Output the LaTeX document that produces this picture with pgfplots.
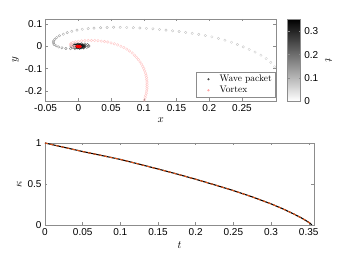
\documentclass[border=0pt]{standalone}
\usepackage{fontspec}
\setsansfont{Liberation Sans}
\usepackage{pgfplots}
\usepackage{pgfplotstable}
\pgfplotsset{compat=1.18}
\definecolor{mlorange}{rgb}{0.85,0.325,0.098}
\definecolor{axgray}{gray}{0.55}

\pgfplotsset{mylegimg/.style={legend image code/.code={%
  \draw[draw=none] (0cm,0cm) -- (0.7cm,0cm);
  \draw[##1, only marks] plot coordinates {(0.38cm,0cm)};}}}

\pgfplotstableread{
x y t
0.300 -0.092 0.000
0.294 -0.072 0.002
0.287 -0.055 0.004
0.279 -0.040 0.006
0.270 -0.026 0.008
0.261 -0.014 0.010
0.252 -0.003 0.012
0.243 0.008 0.014
0.234 0.018 0.016
0.224 0.027 0.018
0.214 0.035 0.020
0.204 0.042 0.022
0.194 0.048 0.024
0.184 0.053 0.026
0.174 0.058 0.028
0.164 0.062 0.030
0.154 0.066 0.032
0.144 0.069 0.034
0.134 0.072 0.036
0.124 0.075 0.038
0.114 0.078 0.040
0.104 0.080 0.042
0.094 0.082 0.044
0.084 0.083 0.046
0.074 0.084 0.048
0.064 0.085 0.050
0.054 0.085 0.052
0.044 0.084 0.054
0.034 0.083 0.056
0.024 0.081 0.058
0.015 0.079 0.060
0.006 0.076 0.062
-0.002 0.072 0.064
-0.010 0.067 0.068
-0.017 0.061 0.074
-0.023 0.054 0.080
-0.029 0.047 0.086
-0.033 0.039 0.092
-0.036 0.031 0.098
-0.038 0.023 0.104
-0.038 0.015 0.110
-0.037 0.008 0.116
-0.034 0.002 0.122
-0.030 -0.003 0.128
-0.025 -0.007 0.134
-0.019 -0.010 0.140
-0.012 -0.011 0.146
-0.005 -0.011 0.152
0.002 -0.010 0.158
0.008 -0.008 0.162
0.013 -0.005 0.166
0.016 -0.001 0.170
0.016 0.003 0.174
0.014 0.007 0.178
0.010 0.010 0.182
0.005 0.012 0.186
0.000 0.012 0.190
-0.005 0.011 0.194
-0.009 0.008 0.198
-0.011 0.004 0.202
-0.011 0.000 0.206
-0.009 -0.004 0.210
-0.006 -0.007 0.214
-0.002 -0.008 0.218
0.002 -0.008 0.222
0.005 -0.007 0.226
0.008 -0.005 0.230
0.010 -0.002 0.234
0.010 0.001 0.238
0.009 0.004 0.242
0.007 0.006 0.246
0.004 0.008 0.250
0.001 0.008 0.254
-0.002 0.008 0.258
-0.005 0.006 0.262
-0.007 0.004 0.266
-0.008 0.001 0.270
-0.007 -0.002 0.274
-0.005 -0.004 0.278
-0.003 -0.005 0.282
0.000 -0.006 0.286
0.003 -0.005 0.290
0.005 -0.003 0.294
0.006 -0.001 0.298
0.006 0.002 0.302
0.005 0.004 0.306
0.003 0.005 0.310
0.000 0.006 0.314
-0.003 0.005 0.318
-0.004 0.003 0.322
-0.005 0.000 0.326
-0.004 -0.002 0.330
-0.002 -0.004 0.334
0.001 -0.004 0.338
0.003 -0.002 0.342
0.003 0.001 0.346
0.001 0.002 0.350
0.000 0.000 0.354
0.004 -0.006 0.296
0.007 -0.004 0.300
0.008 0.000 0.304
0.007 0.003 0.308
0.005 0.005 0.312
0.002 0.006 0.316
-0.001 0.006 0.320
-0.004 0.004 0.324
-0.006 0.002 0.328
-0.006 -0.001 0.332
-0.004 -0.003 0.336
-0.001 -0.004 0.340
0.002 -0.003 0.344
0.002 0.000 0.348
-0.002 0.001 0.350
-0.002 -0.002 0.352
}\wavepacket

\pgfplotstableread{
x y
0.1000 -0.250
0.1010 -0.240
0.1020 -0.230
0.1030 -0.220
0.1038 -0.210
0.1044 -0.200
0.1048 -0.190
0.1050 -0.180
0.1050 -0.170
0.1049 -0.160
0.1046 -0.150
0.1041 -0.140
0.1034 -0.130
0.1025 -0.120
0.1014 -0.110
0.1000 -0.100
0.0984 -0.090
0.0965 -0.080
0.0943 -0.070
0.0918 -0.060
0.0890 -0.050
0.0858 -0.040
0.0822 -0.030
0.0782 -0.021
0.0740 -0.013
0.0695 -0.006
0.0650 0.000
0.0600 0.006
0.0550 0.011
0.0500 0.015
0.0450 0.019
0.0400 0.021
0.0350 0.023
0.0300 0.025
0.0250 0.026
0.0200 0.026
0.0150 0.026
0.0100 0.025
0.0050 0.024
0.0000 0.022
-0.0045 0.020
-0.0085 0.017
-0.0110 0.013
-0.0120 0.009
-0.0115 0.005
-0.0095 0.002
-0.0070 0.000
-0.0050 -0.001
}\vortextrail

\pgfplotstableread{
x y
-0.002 -0.001
0.000 -0.002
0.002 -0.002
0.003 -0.001
0.001 0.000
-0.001 0.000
}\vortexcore

\pgfplotstableread{
t k
0 1.000
0.025 0.948
0.05 0.896
0.075 0.848
0.1 0.800
0.125 0.742
0.15 0.683
0.175 0.622
0.2 0.558
0.225 0.490
0.25 0.420
0.275 0.343
0.3 0.258
0.315 0.200
0.33 0.135
0.34 0.088
0.347 0.050
0.352 0.020
0.354 0.000
}\kappadata

\pgfplotsset{
  mlaxis/.style={
    scale only axis,
    axis line style={axgray, line width=0.5pt},
    every tick/.style={axgray, line width=0.4pt},
    tick align=inside,
    major tick length=2.5pt,
    scaled ticks=false,
    tick label style={font=\sffamily\fontsize{10}{11}\selectfont, /pgf/number format/assume math mode=true,
      /pgf/number format/fixed, /pgf/number format/precision=2},
    label style={font=\fontsize{10.5}{12}\selectfont},
  }
}

\begin{document}
\begin{tikzpicture}
\path[use as bounding box] (0,0) rectangle (346pt,260pt);

\begin{axis}[mlaxis,
  at={(45.6pt,159pt)}, anchor=south west,
  width=230.4pt, height=82pt,
  xmin=-0.05, xmax=0.302, ymin=-0.245, ymax=0.122,
  xtick={-0.05,0,0.05,0.1,0.15,0.2,0.25},
  ytick={-0.2,-0.1,0,0.1},
  xlabel={$x$}, ylabel={$y$},
  xlabel style={yshift=1pt},
  ylabel style={yshift=-1pt},
  colormap={wb}{gray(0cm)=(1); gray(1cm)=(0)},
  point meta min=0, point meta max=0.354,
  colorbar,
  colorbar style={
    at={(parent axis.north east)}, anchor=north west, xshift=3.2pt,
    scale only axis, width=13pt, height=82pt,
    axis line style={axgray, line width=0.5pt},
    ytick={0,0.1,0.2,0.3},
    every tick/.style={axgray, line width=0.4pt},
    major tick length=2pt,
    yticklabel style={font=\sffamily\fontsize{10}{11}\selectfont, /pgf/number format/assume math mode=true,
      /pgf/number format/fixed, /pgf/number format/precision=1},
    ylabel={$t$},
    ylabel style={font=\fontsize{10.5}{12}\selectfont, rotate=180},
  },
  legend cell align=left,
  legend style={at={(1,0)}, anchor=south east, xshift=-1pt, yshift=3.5pt,
    draw=axgray, font=\fontsize{9.5}{11}\selectfont, inner sep=1pt, row sep=-1pt},
]
\addplot[scatter, only marks, mark=o, mark size=1.25pt, line width=0.3pt,
  point meta=explicit, forget plot]
  table[x=x, y=y, meta=t] {\wavepacket};
\addplot[only marks, mark=o, mark size=1.3pt, line width=0.4pt, draw=red!22, forget plot]
  table[x=x, y=y] {\vortextrail};
\addplot[only marks, mark=*, mark size=1.25pt, draw=red, fill=red, forget plot]
  table[x=x, y=y] {\vortexcore};
\addlegendimage{only marks, mark=*, mark size=0.8pt, gray!60!black, mylegimg}
\addlegendentry{Wave packet}
\addlegendimage{only marks, mark=*, mark size=0.9pt, red!35, mylegimg}
\addlegendentry{Vortex}
\end{axis}

\begin{axis}[mlaxis,
  at={(45pt,35pt)}, anchor=south west,
  width=269pt, height=82pt,
  xmin=0, xmax=0.357, ymin=0, ymax=1,
  xtick={0,0.05,0.1,0.15,0.2,0.25,0.3,0.35},
  ytick={0,0.5,1},
  xlabel={$t$}, ylabel={$\kappa$},
  xlabel style={yshift=1pt},
  ylabel style={yshift=-1pt},
]
\addplot[black, line width=1.1pt] table[x=t, y=k] {\kappadata};
\addplot[mlorange, line width=1.1pt, dash pattern=on 3pt off 2.5pt] table[x=t, y=k] {\kappadata};
\end{axis}
\end{tikzpicture}
\end{document}
